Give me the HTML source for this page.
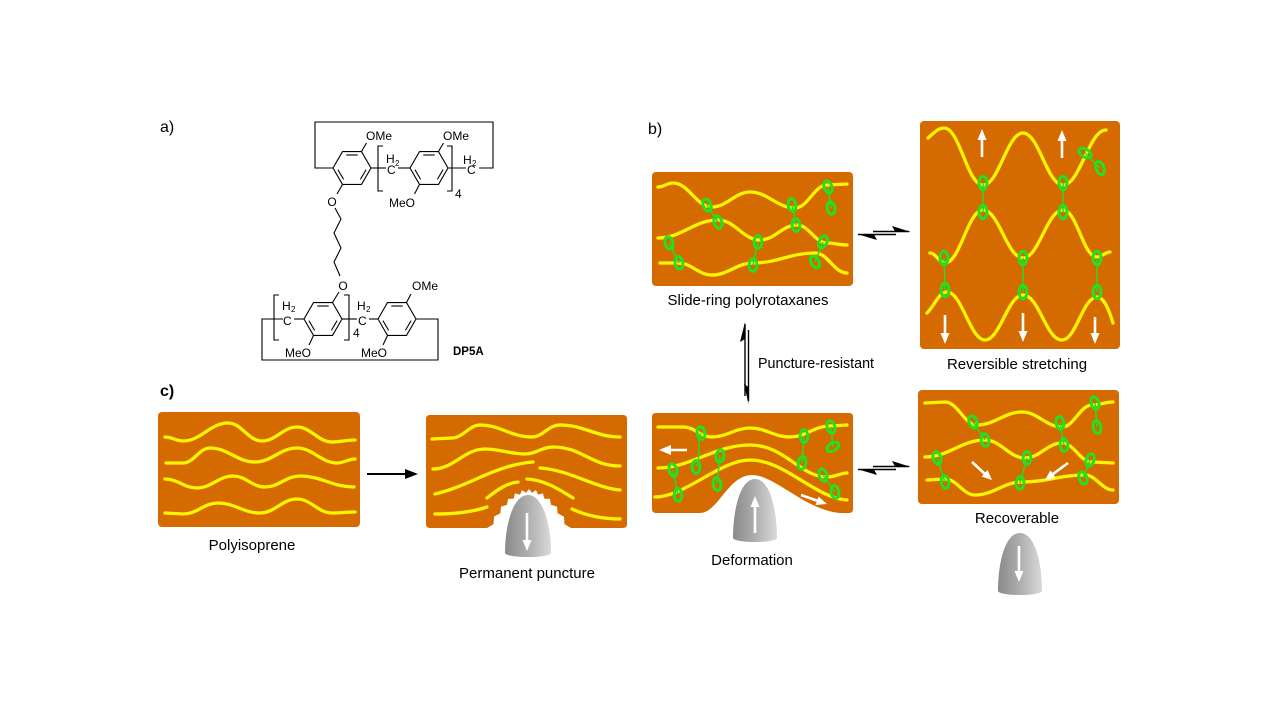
<!DOCTYPE html>
<html><head><meta charset="utf-8"><style>
html,body{margin:0;padding:0;background:#fff;}
svg{display:block;}
text{font-family:"Liberation Sans",Arial,sans-serif;fill:#000;}
.y{fill:none;stroke:#FFF500;stroke-width:3.3;stroke-linecap:round;}
.g{fill:none;stroke:#22E022;stroke-width:3;}
.gl{stroke:#22E022;stroke-width:1.5;fill:none;}
.w{stroke:#fff;stroke-width:2.6;fill:none;}
.wh{fill:#fff;stroke:none;}
.b{stroke:#000;stroke-width:1.1;fill:none;}
.box{fill:#D46A00;}
.ch{font-size:12px;}
.lab{font-size:15px;text-anchor:middle;}
</style></head><body>
<svg width="1280" height="720" viewBox="0 0 1280 720" xmlns="http://www.w3.org/2000/svg">
<defs>
<linearGradient id="cone" x1="0" y1="0" x2="1" y2="0">
<stop offset="0" stop-color="#8a8a8a"/><stop offset="0.5" stop-color="#aeaeae"/><stop offset="1" stop-color="#dadada"/>
</linearGradient>
</defs>
<rect width="1280" height="720" fill="#fff"/>

<!-- ============ a) chemical structure ============ -->
<text x="160" y="132" font-size="16">a)</text>
<polyline class="b" points="333,168 315,168 315,122 493,122 493,168 479,168"/>
<g class="b" transform="translate(352,168)">
<polygon points="-19,0 -9.5,-16.45 9.5,-16.45 19,0 9.5,16.45 -9.5,16.45"/>
<line x1="-5.7" y1="-13" x2="5.7" y2="-13"/><line x1="14.1" y1="1.6" x2="8.4" y2="11.4"/><line x1="-8.4" y1="11.4" x2="-14.1" y2="1.6"/>
</g>
<g class="b" transform="translate(429,168)">
<polygon points="-19,0 -9.5,-16.45 9.5,-16.45 19,0 9.5,16.45 -9.5,16.45"/>
<line x1="-5.7" y1="-13" x2="5.7" y2="-13"/><line x1="14.1" y1="1.6" x2="8.4" y2="11.4"/><line x1="-8.4" y1="11.4" x2="-14.1" y2="1.6"/>
</g>
<line class="b" x1="371" y1="168" x2="386" y2="168"/>
<line class="b" x1="398" y1="168" x2="410" y2="168"/>
<line class="b" x1="448" y1="168" x2="466" y2="168"/>
<polyline class="b" points="383,146 378,146 378,191 383,191"/>
<polyline class="b" points="447,146 452,146 452,191 447,191"/>
<text class="ch" x="386" y="163">H</text><text x="395" y="166" font-size="8">2</text>
<text class="ch" x="387" y="174">C</text>
<text class="ch" x="463" y="164">H</text><text x="472" y="166" font-size="8">2</text>
<text class="ch" x="467" y="174">C</text>
<text class="ch" x="455" y="198">4</text>
<line class="b" x1="361.5" y1="151.5" x2="366.5" y2="143"/>
<text class="ch" x="366" y="140">OMe</text>
<line class="b" x1="438.5" y1="151.5" x2="443.5" y2="143"/>
<text class="ch" x="443" y="140">OMe</text>
<line class="b" x1="419.5" y1="184.5" x2="414.5" y2="194"/>
<text class="ch" x="415" y="207" text-anchor="end">MeO</text>
<line class="b" x1="342.5" y1="184.5" x2="337" y2="194"/>
<text class="ch" x="332" y="206" text-anchor="middle">O</text>
<polyline class="b" points="335,208 341,219 334,233 341,248 334,262 340,276"/>
<text class="ch" x="343" y="290" text-anchor="middle">O</text>
<line class="b" x1="339" y1="292" x2="332.5" y2="302.5"/>
<g class="b" transform="translate(323,319)">
<polygon points="-19,0 -9.5,-16.45 9.5,-16.45 19,0 9.5,16.45 -9.5,16.45"/>
<line x1="-5.7" y1="-13" x2="5.7" y2="-13"/><line x1="14.1" y1="1.6" x2="8.4" y2="11.4"/><line x1="-8.4" y1="11.4" x2="-14.1" y2="1.6"/>
</g>
<g class="b" transform="translate(397,319)">
<polygon points="-19,0 -9.5,-16.45 9.5,-16.45 19,0 9.5,16.45 -9.5,16.45"/>
<line x1="-5.7" y1="-13" x2="5.7" y2="-13"/><line x1="14.1" y1="1.6" x2="8.4" y2="11.4"/><line x1="-8.4" y1="11.4" x2="-14.1" y2="1.6"/>
</g>
<polyline class="b" points="283,319 262,319 262,360 438,360 438,319 416,319"/>
<line class="b" x1="294" y1="319" x2="304" y2="319"/>
<line class="b" x1="342" y1="319" x2="357" y2="319"/>
<line class="b" x1="369" y1="319" x2="378" y2="319"/>
<polyline class="b" points="279,295 274,295 274,340 279,340"/>
<polyline class="b" points="344,295 349,295 349,340 344,340"/>
<text class="ch" x="282" y="310">H</text><text x="291" y="312" font-size="8">2</text>
<text class="ch" x="283" y="325">C</text>
<text class="ch" x="357" y="310">H</text><text x="366" y="312" font-size="8">2</text>
<text class="ch" x="358" y="325">C</text>
<text class="ch" x="353" y="337">4</text>
<line class="b" x1="313.5" y1="335.5" x2="309" y2="345"/>
<text class="ch" x="311" y="357" text-anchor="end">MeO</text>
<line class="b" x1="387.5" y1="335.5" x2="383" y2="345"/>
<text class="ch" x="387" y="357" text-anchor="end">MeO</text>
<line class="b" x1="406.5" y1="302.5" x2="411" y2="294"/>
<text class="ch" x="412" y="290">OMe</text>
<text x="453" y="355" font-size="11.5" font-weight="bold">DP5A</text>

<!-- ============ b) ============ -->
<text x="648" y="134" font-size="16">b)</text>

<rect class="box" x="652" y="172" width="201" height="114" rx="4"/>
<path class="y" d="M658,187 C664,187 667,183 673,183 C689,183 696,207 712,207 C727,207 735,192 750,192 C768,192 777,208 795,208 C808,208 814,185 827,185 L847,184"/>
<path class="y" d="M658,238 C682,238 694,220 718,220 C735,220 743,240 760,240 C775,240 782,225 797,225 C809,225 815,243 827,243 C835,243 839,245 847,245"/>
<path class="y" d="M660,263 L678,263 C692,263 698,275 712,275 C728,275 737,263 753,263 C778,263 790,253 815,253 C828,253 834,273 847,273"/>
<g class="gl">
<line x1="707" y1="205" x2="718" y2="222"/><line x1="792" y1="205" x2="796" y2="225"/><line x1="828" y1="187" x2="831" y2="208"/>
<line x1="669" y1="243" x2="679" y2="263"/><line x1="758" y1="242" x2="753" y2="265"/><line x1="823" y1="242" x2="815" y2="262"/>
</g>
<g class="g">
<ellipse cx="707" cy="205" rx="3.9" ry="6.4" transform="rotate(-20 707 205)"/>
<ellipse cx="718" cy="222" rx="3.9" ry="6.4" transform="rotate(-15 718 222)"/>
<ellipse cx="792" cy="205" rx="3.9" ry="6.4" transform="rotate(-10 792 205)"/>
<ellipse cx="796" cy="225" rx="3.9" ry="6.4" transform="rotate(-5 796 225)"/>
<ellipse cx="828" cy="187" rx="3.9" ry="6.4" transform="rotate(-20 828 187)"/>
<ellipse cx="831" cy="208" rx="3.9" ry="6.4" transform="rotate(-10 831 208)"/>
<ellipse cx="669" cy="243" rx="3.9" ry="6.4" transform="rotate(-15 669 243)"/>
<ellipse cx="679" cy="263" rx="3.9" ry="6.4" transform="rotate(-10 679 263)"/>
<ellipse cx="758" cy="242" rx="3.9" ry="6.4"/>
<ellipse cx="753" cy="265" rx="3.9" ry="6.4" transform="rotate(5 753 265)"/>
<ellipse cx="823" cy="242" rx="3.9" ry="6.4" transform="rotate(25 823 242)"/>
<ellipse cx="815" cy="262" rx="3.9" ry="6.4" transform="rotate(-30 815 262)"/>
</g>
<text class="lab" x="748" y="305" font-size="15.3">Slide-ring polyrotaxanes</text>

<line x1="873" y1="231.5" x2="909" y2="231.5" stroke="#000" stroke-width="1.4"/>
<polygon points="911,232 892,226 895,231.5" fill="#000"/>
<line x1="858" y1="234.5" x2="896" y2="234.5" stroke="#000" stroke-width="1.4"/>
<polygon points="857,234 877,240 874,234.5" fill="#000"/>

<rect class="box" x="920" y="121" width="200" height="228" rx="4"/>
<path class="y" d="M928,138 C934,133 938,128 944,128 C960,128 967,185 983,185 C999,185 1007,133 1023,133 C1039,133 1047,185 1063,185 C1080,185 1089,130 1106,130"/>
<path class="y" d="M930,253 C936,253 939,263 945,263 C960,263 968,210 983,210 C999,210 1007,258 1023,258 C1039,258 1047,210 1063,210 C1077,210 1083,257 1097,257 C1102,257 1105,252 1110,252"/>
<path class="y" d="M927,313 C935,305 939,292 947,292 C962,292 970,340 985,340 C1000,340 1008,295 1023,295 C1039,295 1046,340 1062,340 C1076,340 1083,297 1097,297 C1104,297 1109,310 1113,323"/>
<g class="gl">
<line x1="983" y1="183" x2="983" y2="212"/><line x1="1063" y1="183" x2="1063" y2="212"/>
<line x1="944" y1="258" x2="945" y2="290"/><line x1="1023" y1="258" x2="1023" y2="292"/><line x1="1097" y1="258" x2="1097" y2="292"/>
<line x1="1085" y1="153" x2="1100" y2="168"/>
</g>
<g class="g">
<ellipse cx="983" cy="183" rx="4" ry="6.8"/>
<ellipse cx="983" cy="212" rx="4" ry="6.8"/>
<ellipse cx="1063" cy="183" rx="4" ry="6.8"/>
<ellipse cx="1063" cy="212" rx="4" ry="6.8"/>
<ellipse cx="944" cy="258" rx="4" ry="6.8"/>
<ellipse cx="945" cy="290" rx="4" ry="6.8"/>
<ellipse cx="1023" cy="258" rx="4" ry="6.8"/>
<ellipse cx="1023" cy="292" rx="4" ry="6.8"/>
<ellipse cx="1097" cy="258" rx="4" ry="6.8"/>
<ellipse cx="1097" cy="292" rx="4" ry="6.8"/>
<ellipse cx="1085" cy="153" rx="4" ry="6.8" transform="rotate(-60 1085 153)"/>
<ellipse cx="1100" cy="168" rx="4" ry="6.8" transform="rotate(-20 1100 168)"/>
</g>
<g class="w">
<line x1="982" y1="157" x2="982" y2="137"/><line x1="1062" y1="158" x2="1062" y2="138"/>
<line x1="945" y1="315" x2="945" y2="335"/><line x1="1023" y1="313" x2="1023" y2="333"/><line x1="1095" y1="317" x2="1095" y2="336"/>
</g>
<g class="wh">
<polygon points="982,129 977.5,140 986.5,140"/><polygon points="1062,130 1057.5,141 1066.5,141"/>
<polygon points="945,344 940.5,333 949.5,333"/><polygon points="1023,342 1018.5,331 1027.5,331"/><polygon points="1095,344 1090.5,333 1099.5,333"/>
</g>
<text class="lab" x="1017" y="369">Reversible stretching</text>

<line x1="745" y1="324" x2="745" y2="396" stroke="#000" stroke-width="1.4"/>
<polygon points="745,322 740,342 745,339" fill="#000"/>
<line x1="748.5" y1="330" x2="748.5" y2="401" stroke="#000" stroke-width="1.4"/>
<polygon points="748.5,404 744,384 748.5,387" fill="#000"/>
<text x="758" y="368" font-size="14.3">Puncture-resistant</text>

<!-- ============ c) ============ -->
<text x="160" y="396" font-size="16" font-weight="bold">c)</text>

<rect class="box" x="158" y="412" width="202" height="115" rx="4"/>
<path class="y" d="M165,437 C172,437 176,441 183,441 C201,441 210,423 228,423 C242,423 248,441 262,441 C276,441 283,427 297,427 C311,427 318,442 332,442 C341,442 346,440 355,440"/>
<path class="y" d="M166,463 L183,463 C194,463 199,448 210,448 C228,448 237,462 255,462 C272,462 280,448 297,448 C313,448 321,463 337,463 C344,463 348,459 355,459"/>
<path class="y" d="M165,479 C178,479 184,488 197,488 C211,488 219,476 233,476 C246,476 252,487 265,487 C279,487 286,476 300,476 C322,476 332,487 354,487"/>
<path class="y" d="M165,513 L183,514 C197,514 204,503 218,503 C235,503 243,513 260,513 C275,513 282,499 297,499 C311,499 318,513 332,513 C341,513 346,512 355,512"/>
<text class="lab" x="252" y="550">Polyisoprene</text>

<line x1="367" y1="474" x2="407" y2="474" stroke="#000" stroke-width="2"/>
<polygon points="418,474 405,469 405,479" fill="#000"/>

<path class="box" d="M430,415 H623 Q627,415 627,419 V524 Q627,528 623,528 H571 L564.5,524.1 L564,516.6 L557.6,513.3 L557,506.6 L550.9,504.8 L550,498.9 L544.3,498.6 L543,493.4 L538,494.6 L536,490.1 L532,492.7 L529,489 L526,492.7 L522,490.1 L520,494.6 L515,493.4 L513.7,498.6 L508,498.9 L507.1,504.8 L501,506.6 L500.4,513.3 L494,516.6 L493.5,524.1 L487,528 H430 Q426,528 426,524 V419 Q426,415 430,415 Z"/>
<path class="y" d="M432,439 L452,438 C463,438 469,425 480,425 C500,425 511,437 532,437 C543,437 548,425 560,425 C584,425 596,437 620,437"/>
<path class="y" d="M433,469 C454,469 464,449 485,449 C499,449 511,454 525,454 C536,454 542,447 553,447 C582,447 591,466 620,466"/>
<path class="y" d="M435,494 C470,486 495,465 533,462"/>
<path class="y" d="M540,468 C570,470 595,488 620,490"/>
<path class="y" d="M487,498 C497,490 507,483 518,482"/>
<path class="y" d="M527,479 C545,480 560,490 573,498"/>
<path class="y" d="M435,514 C455,514 472,512 487,507"/>
<path class="y" d="M572,509 C585,515 600,519 620,519"/>
<path d="M505,553 C505,525 513,495 528,495 C543,495 551,525 551,553 A23,4 0 0 1 505,553 Z" fill="url(#cone)"/>
<line class="w" x1="527" y1="513" x2="527" y2="541"/>
<polygon class="wh" points="527,551 522.5,540 531.5,540"/>
<text class="lab" x="527" y="578" font-size="14.5">Permanent puncture</text>

<path class="box" d="M656,413 H849 Q853,413 853,417 V509 Q853,513 849,513 H840 C805,510 775,475 752,475 C728,475 718,513 700,513 H656 Q652,513 652,509 V417 Q652,413 656,413 Z"/>
<path class="y" d="M658,427 L683,427 C695,427 700,437 712,437 C727,437 735,428 750,428 C766,428 774,437 790,437 C806,437 814,426 830,426 L847,425"/>
<path class="y" d="M658,468 C690,468 715,445 750,445 C785,445 800,477 827,477 C836,477 840,473 847,473"/>
<path class="y" d="M655,497 C685,497 720,460 750,460 C785,460 815,498 847,500"/>
<g class="gl">
<path d="M701,433 C696,445 702,455 696,467"/>
<line x1="720" y1="456" x2="717" y2="484"/><line x1="673" y1="470" x2="678" y2="495"/>
<line x1="804" y1="436" x2="802" y2="463"/><line x1="831" y1="427" x2="833" y2="447"/><line x1="823" y1="475" x2="835" y2="492"/>
</g>
<g class="g">
<ellipse cx="701" cy="433" rx="3.9" ry="6.4" transform="rotate(-10 701 433)"/>
<ellipse cx="696" cy="467" rx="3.9" ry="6.4"/>
<ellipse cx="720" cy="456" rx="3.9" ry="6.4" transform="rotate(10 720 456)"/>
<ellipse cx="717" cy="484" rx="3.9" ry="6.4" transform="rotate(-10 717 484)"/>
<ellipse cx="673" cy="470" rx="3.9" ry="6.4" transform="rotate(-15 673 470)"/>
<ellipse cx="678" cy="495" rx="3.9" ry="6.4"/>
<ellipse cx="804" cy="436" rx="3.9" ry="6.4" transform="rotate(-5 804 436)"/>
<ellipse cx="802" cy="463" rx="3.9" ry="6.4" transform="rotate(10 802 463)"/>
<ellipse cx="831" cy="427" rx="3.9" ry="6.4" transform="rotate(-15 831 427)"/>
<ellipse cx="833" cy="447" rx="3.9" ry="6.4" transform="rotate(60 833 447)"/>
<ellipse cx="823" cy="475" rx="3.9" ry="6.4" transform="rotate(-15 823 475)"/>
<ellipse cx="835" cy="492" rx="3.9" ry="6.4" transform="rotate(-10 835 492)"/>
</g>
<line class="w" x1="687" y1="450" x2="669" y2="450"/>
<polygon class="wh" points="659,450 671,445 671,455"/>
<line class="w" x1="801" y1="495" x2="817" y2="500.6"/>
<polygon class="wh" points="827,504 815.5,505 818.5,496.5"/>
<path d="M733,538 C733,510 740,479 755,479 C770,479 777,510 777,538 A22,4 0 0 1 733,538 Z" fill="url(#cone)"/>
<line class="w" x1="755" y1="533" x2="755" y2="506"/>
<polygon class="wh" points="755,496 750.5,507 759.5,507"/>
<text class="lab" x="752" y="565">Deformation</text>

<line x1="873" y1="466.5" x2="909" y2="466.5" stroke="#000" stroke-width="1.4"/>
<polygon points="911,467 892,461 895,466.5" fill="#000"/>
<line x1="858" y1="469.5" x2="896" y2="469.5" stroke="#000" stroke-width="1.4"/>
<polygon points="857,469 877,475 874,469.5" fill="#000"/>

<rect class="box" x="918" y="390" width="201" height="114" rx="4"/>
<path class="y" d="M925,403 L945,402 C958,402 964,425 977,425 C995,425 1004,412 1022,412 C1038,412 1046,427 1062,427 C1074,427 1080,405 1092,405 C1100,405 1105,402 1113,402"/>
<path class="y" d="M925,457 C949,457 961,440 985,440 C1001,440 1009,458 1025,458 C1040,458 1047,443 1062,443 C1074,443 1080,462 1092,462 L1113,463"/>
<path class="y" d="M927,480 L945,479 C957,479 963,495 975,495 C994,495 1003,482 1022,482 C1047,482 1060,475 1085,475 C1096,475 1102,490 1113,490"/>
<g class="gl">
<line x1="973" y1="422" x2="985" y2="440"/><line x1="1060" y1="423" x2="1064" y2="445"/><line x1="1095" y1="403" x2="1097" y2="427"/>
<line x1="937" y1="458" x2="945" y2="482"/><line x1="1027" y1="458" x2="1020" y2="483"/><line x1="1090" y1="460" x2="1083" y2="478"/>
</g>
<g class="g">
<ellipse cx="973" cy="422" rx="3.9" ry="6.4" transform="rotate(-20 973 422)"/>
<ellipse cx="985" cy="440" rx="3.9" ry="6.4" transform="rotate(-10 985 440)"/>
<ellipse cx="1060" cy="423" rx="3.9" ry="6.4" transform="rotate(-10 1060 423)"/>
<ellipse cx="1064" cy="445" rx="3.9" ry="6.4" transform="rotate(-5 1064 445)"/>
<ellipse cx="1095" cy="403" rx="3.9" ry="6.4" transform="rotate(-15 1095 403)"/>
<ellipse cx="1097" cy="427" rx="3.9" ry="6.4" transform="rotate(-10 1097 427)"/>
<ellipse cx="937" cy="458" rx="3.9" ry="6.4" transform="rotate(-15 937 458)"/>
<ellipse cx="945" cy="482" rx="3.9" ry="6.4" transform="rotate(-10 945 482)"/>
<ellipse cx="1027" cy="458" rx="3.9" ry="6.4"/>
<ellipse cx="1020" cy="483" rx="3.9" ry="6.4" transform="rotate(5 1020 483)"/>
<ellipse cx="1090" cy="460" rx="3.9" ry="6.4" transform="rotate(20 1090 460)"/>
<ellipse cx="1083" cy="478" rx="3.9" ry="6.4" transform="rotate(-20 1083 478)"/>
</g>
<line class="w" x1="972" y1="462" x2="985" y2="474"/>
<polygon class="wh" points="992,480 981.6,476.6 987.6,470"/>
<line class="w" x1="1068" y1="463" x2="1052" y2="474.7"/>
<polygon class="wh" points="1045,480 1050.4,470.4 1055.7,477.7"/>
<text class="lab" x="1017" y="523">Recoverable</text>
<path d="M998,591 C998,563 1005,533 1020,533 C1035,533 1042,563 1042,591 A22,4 0 0 1 998,591 Z" fill="url(#cone)"/>
<line class="w" x1="1019" y1="546" x2="1019" y2="572"/>
<polygon class="wh" points="1019,582 1014.5,571 1023.5,571"/>
</svg>
</body></html>
